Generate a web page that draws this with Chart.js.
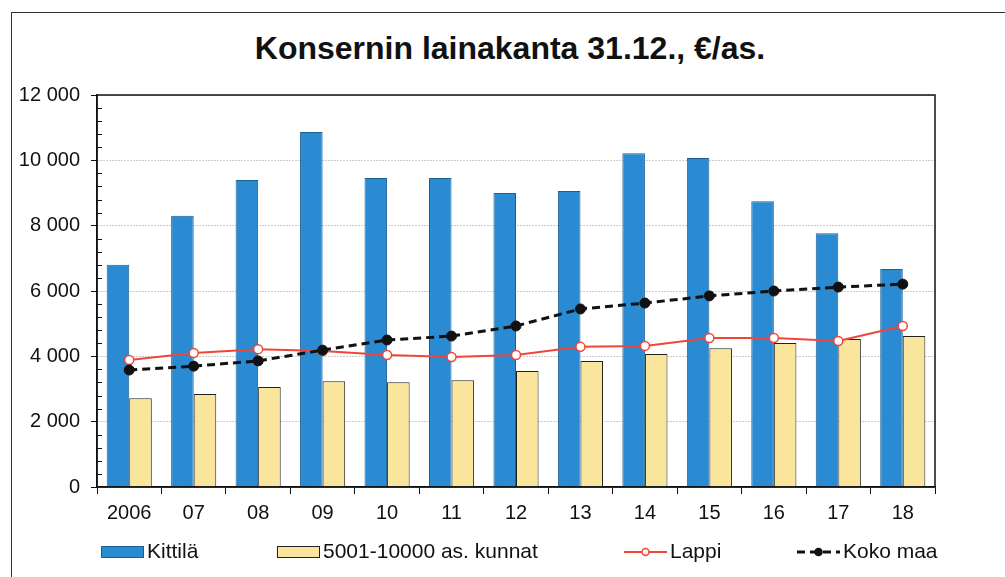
<!DOCTYPE html>
<html>
<head>
<meta charset="utf-8">
<script src="https://cdn.jsdelivr.net/npm/chart.js@4/dist/chart.umd.min.js"></script>
<style>
  html, body { margin: 0; padding: 0; background: #fff; }
  #wrap { position: relative; width: 1005px; height: 577px; overflow: hidden; }
  #frame { position: absolute; left: 11px; top: 12px; right: -5px; bottom: -5px;
           border-top: 1.5px solid #333; border-left: 1.5px solid #333; }
  #title { position: absolute; left: 0; width: 1020px; top: 30px; text-align: center;
           font: bold 32px 'Liberation Sans', Arial, sans-serif; color: #111; }
  canvas { position: absolute; left: 0; top: 0; }
</style>
</head>
<body>
<div id="wrap">
  <div id="frame"></div>
  <div id="title">Konsernin lainakanta 31.12., €/as.</div>
  <canvas id="chart" width="1005" height="577"></canvas>
</div>
<script>
// vuodet x-akselilla
const years = ['2006', '07', '08', '09', '10', '11', '12', '13', '14', '15', '16', '17', '18'];
// arvot luettu kuvasta, €/as.
const kittila = [6800, 8300, 9400, 10870, 9460, 9460, 9000, 9060, 10220, 10070, 8750, 7770, 6670];
const kunnat = [2720, 2850, 3060, 3240, 3210, 3270, 3550, 3860, 4070, 4250, 4410, 4530, 4620];
const lappi = [3890, 4100, 4220, 4160, 4040, 3980, 4040, 4290, 4320, 4560, 4560, 4470, 4930];
const kokoMaa = [3580, 3700, 3860, 4190, 4500, 4620, 4930, 5450, 5630, 5850, 6000, 6120, 6210];
const yTicks = [0, 2000, 4000, 6000, 8000, 10000, 12000];

const FONT = "'Liberation Sans', Arial, sans-serif";
const BLUE = '#2a8ad2';
const YELLOW = '#f9e59b';
const RED = '#f0463a';

// kehys piirtoalueen ympärille + pienet väliviivat y-akselille
const framePlugin = {
    id: 'framePlugin',
    afterDraw(chart) {
        const { ctx, chartArea: a, scales } = chart;
        ctx.save();
        ctx.strokeStyle = '#111';
        ctx.lineWidth = 1.5;
        ctx.strokeRect(a.left, a.top, a.right - a.left, a.bottom - a.top);
        ctx.lineWidth = 1;
        for (let v = 400; v < 12000; v += 400) {
            if (v % 2000 === 0) continue;
            const y = Math.round(scales.y.getPixelForValue(v)) + 0.5;
            ctx.beginPath();
            ctx.moveTo(a.left, y);
            ctx.lineTo(a.left + 5, y);
            ctx.stroke();
        }
        ctx.restore();
    }
};

// selite alareunaan, omat paikat jokaiselle
const legendPlugin = {
    id: 'legendPlugin',
    afterDraw(chart) {
        const ctx = chart.ctx;
        const xs = [101, 277, 624, 797];
        const y = 552;
        const w = 43;
        ctx.save();
        ctx.font = '21px ' + FONT;
        ctx.textBaseline = 'middle';
        chart.data.datasets.forEach((ds, i) => {
            const x = xs[i];
            if (ds.type === 'bar') {
                ctx.fillStyle = ds.backgroundColor;
                ctx.fillRect(x, y - 6, w, 12);
                ctx.strokeStyle = ds.borderColor;
                ctx.lineWidth = 1;
                ctx.strokeRect(x + 0.5, y - 5.5, w - 1, 11);
            } else {
                ctx.strokeStyle = ds.borderColor;
                ctx.lineWidth = ds.borderWidth;
                ctx.setLineDash(ds.borderDash || []);
                ctx.beginPath();
                ctx.moveTo(x, y);
                ctx.lineTo(x + w, y);
                ctx.stroke();
                ctx.setLineDash([]);
                ctx.beginPath();
                ctx.arc(x + w / 2, y, 3.5, 0, Math.PI * 2);
                ctx.fillStyle = ds.pointBackgroundColor;
                ctx.fill();
                ctx.lineWidth = 1.5;
                ctx.strokeStyle = ds.pointBorderColor;
                ctx.stroke();
            }
            ctx.fillStyle = '#111';
            ctx.fillText(ds.label, x + w + 3, y);
        });
        ctx.restore();
    }
};

new Chart(document.getElementById('chart'), {
    data: {
        labels: years,
        datasets: [
            {
                type: 'bar', label: 'Kittilä', data: kittila, order: 2,
                backgroundColor: BLUE, borderColor: '#1d5f94', borderWidth: 1,
                categoryPercentage: 0.7, barPercentage: 1
            },
            {
                type: 'bar', label: '5001-10000 as. kunnat', data: kunnat, order: 2,
                backgroundColor: YELLOW, borderColor: '#222', borderWidth: 1,
                categoryPercentage: 0.7, barPercentage: 1
            },
            {
                type: 'line', label: 'Lappi', data: lappi, order: 1,
                borderColor: RED, borderWidth: 2, pointRadius: 4.5,
                pointBackgroundColor: '#fff', pointBorderColor: RED, pointBorderWidth: 1.5
            },
            {
                type: 'line', label: 'Koko maa', data: kokoMaa, order: 0,
                borderColor: '#111', borderWidth: 3, borderDash: [8, 5], pointRadius: 5,
                pointBackgroundColor: '#111', pointBorderColor: '#111', pointBorderWidth: 1
            }
        ]
    },
    options: {
        responsive: false,
        animation: false,
        layout: { padding: { left: 0, right: 70, top: 95, bottom: 45 } },
        plugins: {
            legend: { display: false },
            title: { display: false },
            tooltip: { enabled: false }
        },
        scales: {
            x: {
                offset: true,
                grid: { offset: true, drawOnChartArea: false, drawTicks: true, tickLength: 7, color: '#111' },
                border: { display: true, color: '#111', width: 1.5 },
                ticks: { color: '#111', font: { family: FONT, size: 20 }, padding: 7, maxRotation: 0 },
                afterFit: s => { s.height = 45; }
            },
            y: {
                min: 0, max: 12000,
                afterBuildTicks: s => { s.ticks = yTicks.map(v => ({ value: v })); },
                grid: { color: '#999', lineWidth: 1, tickLength: 6, tickColor: '#111', tickBorderDash: [] },
                border: { display: true, color: '#111', width: 1.5, dash: [1, 2] },
                ticks: {
                    color: '#111', font: { family: FONT, size: 20 }, padding: 11,
                    callback: v => v === 0 ? '0' : String(v).replace(/\B(?=(\d{3})+(?!\d))/g, ' ')
                },
                afterFit: s => { s.width = 97; }
            }
        }
    },
    plugins: [framePlugin, legendPlugin]
});
</script>
</body>
</html>
